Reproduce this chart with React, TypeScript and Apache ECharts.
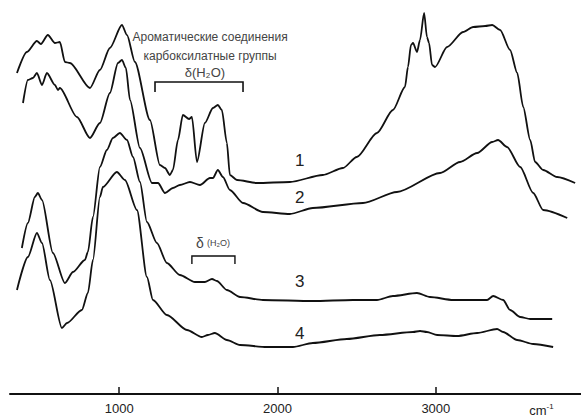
import React, { useEffect, useRef } from 'react';
import * as echarts from 'echarts';

// IR spectra: [wavenumber cm^-1, relative absorbance]
const curve1: number[][] = [
  [354, 321], [417, 342], [480, 353], [505, 350], [549, 359], [594, 351], [625, 352], [657, 332], [689, 331],
  [815, 306], [878, 324], [941, 346], [1017, 369], [1049, 359], [1099, 332], [1194, 274], [1257, 229],
  [1289, 226], [1320, 219], [1339, 224], [1371, 254], [1402, 279], [1441, 275], [1459, 277], [1491, 232],
  [1541, 271], [1592, 286], [1623, 289], [1648, 284], [1680, 251], [1699, 219], [1744, 214], [1870, 211],
  [2078, 212], [2286, 219], [2413, 226], [2501, 237], [2628, 261], [2729, 284], [2805, 307], [2824, 327],
  [2843, 349], [2856, 351], [2881, 342], [2900, 354], [2926, 381], [2944, 357], [2957, 351], [2976, 329],
  [2995, 327], [3071, 347], [3172, 362], [3236, 367], [3312, 368], [3356, 369], [3406, 364], [3469, 344],
  [3514, 321], [3552, 287], [3596, 254], [3627, 232], [3678, 224], [3766, 217], [3880, 211],
];
const curve2: number[][] = [
  [392, 291], [423, 314], [455, 316], [480, 321], [512, 309], [543, 321], [594, 309], [613, 304], [625, 306],
  [733, 277], [815, 256], [878, 271], [941, 301], [992, 331], [1017, 334], [1042, 326], [1068, 294],
  [1131, 246], [1207, 211], [1245, 211], [1289, 201], [1339, 206], [1383, 209], [1447, 212], [1510, 209],
  [1573, 216], [1592, 216], [1623, 224], [1655, 217], [1699, 204], [1782, 191], [1908, 182], [2078, 180],
  [2223, 186], [2540, 191], [2754, 202], [3027, 221], [3153, 232], [3261, 241], [3356, 252], [3393, 254],
  [3450, 247], [3533, 227], [3615, 201], [3678, 184], [3830, 176],
];
const curve3: number[][] = [
  [385, 146], [423, 171], [467, 197], [486, 201], [512, 194], [581, 141], [657, 111], [708, 122], [783, 134],
  [802, 142], [834, 177], [878, 227], [922, 244], [960, 256], [1004, 261], [1049, 254], [1087, 237],
  [1131, 212], [1175, 172], [1238, 151], [1301, 131], [1383, 119], [1478, 112], [1541, 112], [1586, 115],
  [1617, 113], [1680, 104], [1763, 97], [1908, 94], [2223, 93], [2476, 94], [2628, 94], [2729, 98],
  [2881, 101], [2963, 97], [3109, 94], [3324, 94], [3362, 98], [3425, 94], [3469, 84], [3533, 77],
  [3596, 75], [3735, 75],
];
const curve4: number[][] = [
  [354, 104], [423, 137], [480, 161], [512, 151], [562, 114], [638, 66], [670, 71], [764, 84], [802, 101],
  [834, 134], [878, 197], [897, 207], [985, 222], [1036, 214], [1112, 184], [1175, 117], [1213, 94],
  [1301, 79], [1428, 64], [1522, 57], [1560, 59], [1604, 61], [1680, 54], [1763, 49], [1933, 47],
  [2097, 47], [2223, 51], [2438, 55], [2647, 59], [2856, 62], [2900, 63], [2944, 62], [3008, 59],
  [3135, 58], [3261, 61], [3387, 65], [3425, 62], [3514, 54], [3615, 50], [3741, 47],
];

const curves = [curve1, curve2, curve3, curve4];
const xTicks = [1000, 2000, 3000];

const curveLabels = [
  { text: '1', wn: 2141, abs: 234 },
  { text: '2', wn: 2141, abs: 197 },
  { text: '3', wn: 2141, abs: 113 },
  { text: '4', wn: 2141, abs: 61 },
];

const FONT = '"Liberation Sans", Arial, sans-serif';

export default function App() {
  const ref = useRef<HTMLDivElement>(null);

  useEffect(() => {
    document.body.style.margin = '0';
    const chart = echarts.init(ref.current!, null, { renderer: 'svg' });
    chart.setOption({
      animation: false,
      grid: { left: 10, right: 0, top: 0, bottom: 24 },
      xAxis: {
        type: 'value',
        min: 310,
        max: 3917,
        axisLine: { lineStyle: { color: '#111', width: 2 } },
        axisTick: { inside: true, length: 7, customValues: xTicks, lineStyle: { color: '#111', width: 1.5 } },
        axisLabel: {
          customValues: xTicks, color: '#222', fontSize: 13, fontFamily: FONT, margin: 8,
          formatter: (v: number) => String(v),
        },
        splitLine: { show: false },
      },
      yAxis: { type: 'value', min: 0, max: 394, show: false },
      series: curves.map((c) => ({
        type: 'line',
        data: c,
        showSymbol: false,
        smooth: 0.25,
        smoothMonotone: 'x',
        lineStyle: { color: '#111', width: 1.8 },
      })),
    });

    const P = (wn: number, a: number) => chart.convertToPixel({ gridIndex: 0 }, [wn, a]) as number[];
    const graphics: any[] = [];

    curveLabels.forEach((l) => {
      const [x, y] = P(l.wn, l.abs);
      graphics.push({
        type: 'text', x, y,
        style: { text: l.text, fill: '#222', fontSize: 17, fontFamily: FONT, align: 'center', verticalAlign: 'middle' },
      });
    });

    const t1 = P(1574, 357);
    graphics.push({ type: 'text', x: t1[0], y: t1[1], style: { text: 'Ароматические соединения', fill: '#444', fontSize: 12, fontFamily: FONT, align: 'center', verticalAlign: 'middle' } });
    const t2 = P(1574, 338);
    graphics.push({ type: 'text', x: t2[0], y: t2[1], style: { text: 'карбоксилатные группы', fill: '#444', fontSize: 12, fontFamily: FONT, align: 'center', verticalAlign: 'middle' } });
    const t3 = P(1541, 322);
    graphics.push({ type: 'text', x: t3[0], y: t3[1], style: { text: 'δ(H₂O)', fill: '#444', fontSize: 13, fontFamily: FONT, align: 'center', verticalAlign: 'middle' } });

    const b1a = P(1226, 302), b1b = P(1226, 312), b1c = P(1782, 312), b1d = P(1782, 302);
    graphics.push({ type: 'polyline', shape: { points: [b1a, b1b, b1c, b1d] }, style: { stroke: '#111', lineWidth: 1.6, fill: 'none' } });

    const t4 = P(1592, 151);
    graphics.push({
      type: 'text', x: t4[0], y: t4[1],
      style: {
        text: '{d|δ} {s|(H₂O)}', align: 'center', verticalAlign: 'middle',
        rich: {
          d: { fontSize: 14, fontFamily: FONT, fill: '#444' },
          s: { fontSize: 9, fontFamily: FONT, fill: '#444' },
        },
      },
    });
    const b2a = P(1459, 130), b2b = P(1459, 138), b2c = P(1731, 138), b2d = P(1731, 130);
    graphics.push({ type: 'polyline', shape: { points: [b2a, b2b, b2c, b2d] }, style: { stroke: '#111', lineWidth: 1.4, fill: 'none' } });

    const cm = P(3667, -16);
    graphics.push({
      type: 'text', x: cm[0], y: cm[1],
      style: {
        text: '{a|cm}{b|-1}', align: 'center', verticalAlign: 'middle',
        rich: {
          a: { fontSize: 13, fontFamily: FONT, fill: '#222' },
          b: { fontSize: 8, fontFamily: FONT, fill: '#222', verticalAlign: 'top', padding: [0, 0, 8, 0] },
        },
      },
    });

    chart.setOption({ graphic: graphics });
    return () => chart.dispose();
  }, []);

  return <div ref={ref} style={{ width: 581, height: 418, position: 'absolute', left: 0, top: 0 }} />;
}
